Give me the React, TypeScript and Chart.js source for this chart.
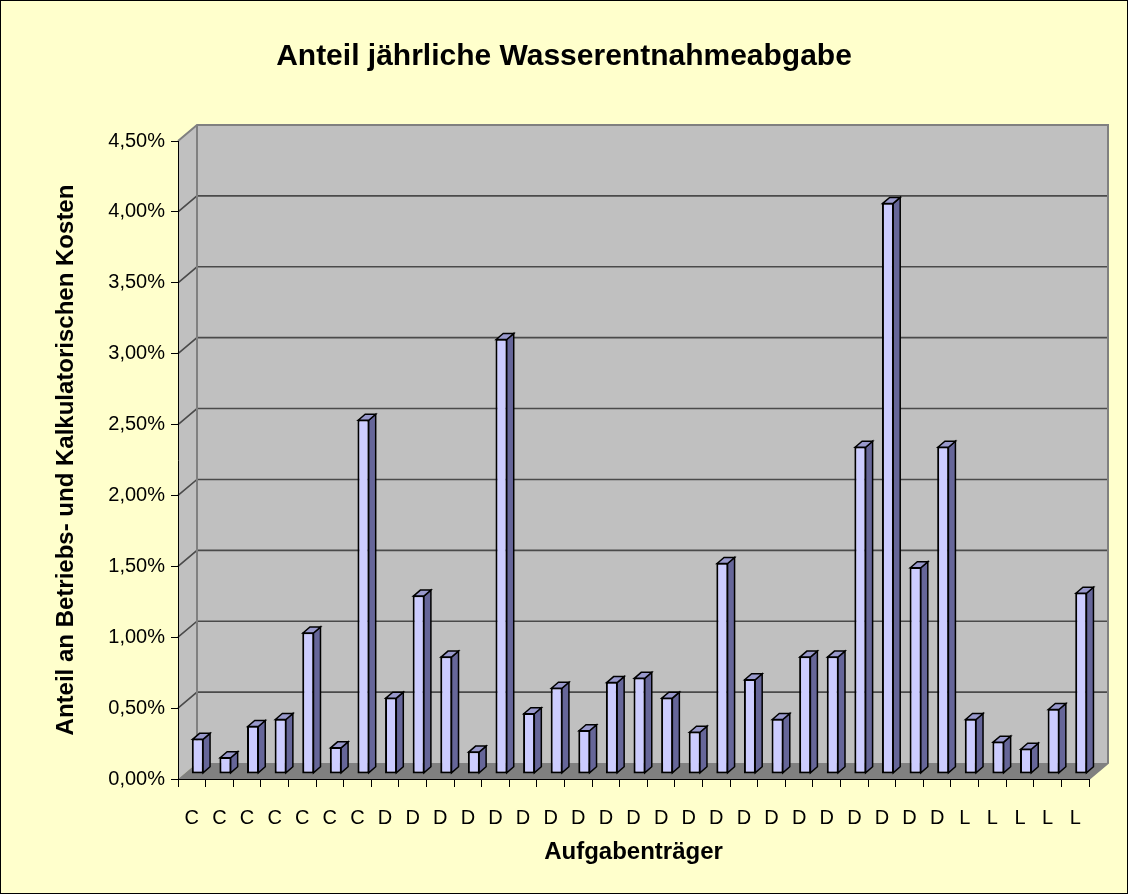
import React, { useEffect, useRef } from 'react';
import { Chart, registerables } from 'chart.js';

Chart.register(...registerables);

// ---- data ----
const categories: string[] = [
  'C', 'C', 'C', 'C', 'C', 'C', 'C',
  'D', 'D', 'D', 'D', 'D', 'D', 'D', 'D', 'D', 'D', 'D', 'D', 'D', 'D', 'D', 'D', 'D', 'D', 'D', 'D', 'D',
  'L', 'L', 'L', 'L', 'L',
];
const values: number[] = [
  0.25, 0.12, 0.34, 0.39, 1.0, 0.19, 2.5,
  0.54, 1.26, 0.83, 0.16, 3.07, 0.43, 0.61, 0.31, 0.65, 0.68, 0.54, 0.3, 1.49, 0.67, 0.39, 0.83, 0.83, 2.31, 4.03, 1.46, 2.31,
  0.39, 0.23, 0.18, 0.46, 1.28,
];
const yMin = 0;
const yMax = 4.5;
const yStep = 0.5;
const chartTitle = 'Anteil jährliche Wasserentnahmeabgabe';
const xTitle = 'Aufgabenträger';
const yTitle = 'Anteil an Betriebs- und Kalkulatorischen Kosten';

// ---- style constants ----
const FONT = "'Liberation Sans', Arial, sans-serif";
const WALL_DX = 19;
const WALL_DY = -16;
const BAR_SHIFT_X = 6;
const BAR_SHIFT_Y = -5;
const BAR_DX = 7;
const BAR_DY = -6;

const fmt = (v: number) => v.toFixed(2).replace('.', ',') + '%';

const excel3d = {
  id: 'excel3d',
  beforeDraw(chart: any) {
    const ctx = chart.ctx as CanvasRenderingContext2D;
    const { width, height } = chart;
    ctx.save();
    ctx.fillStyle = '#FFFFCC';
    ctx.fillRect(0, 0, width, height);
    ctx.strokeStyle = '#000';
    ctx.lineWidth = 1;
    ctx.strokeRect(0.5, 0.5, width - 1, height - 1);

    const { left, right, top, bottom } = chart.chartArea;
    const ys = chart.scales.y;
    // back wall
    ctx.fillStyle = '#C0C0C0';
    ctx.fillRect(left + WALL_DX, top + WALL_DY, right - left, bottom - top);
    // left wall
    ctx.beginPath();
    ctx.moveTo(left, top);
    ctx.lineTo(left + WALL_DX, top + WALL_DY);
    ctx.lineTo(left + WALL_DX, bottom + WALL_DY);
    ctx.lineTo(left, bottom);
    ctx.closePath();
    ctx.fill();
    // floor
    ctx.fillStyle = '#808080';
    ctx.beginPath();
    ctx.moveTo(left, bottom);
    ctx.lineTo(right, bottom);
    ctx.lineTo(right + WALL_DX, bottom + WALL_DY);
    ctx.lineTo(left + WALL_DX, bottom + WALL_DY);
    ctx.closePath();
    ctx.fill();

    // gridlines
    ctx.strokeStyle = '#4A4A4A';
    ctx.lineWidth = 1.6;
    ys.ticks.forEach((t: any) => {
      if (t.value <= yMin || t.value >= yMax) return;
      const y = ys.getPixelForValue(t.value);
      ctx.beginPath();
      ctx.moveTo(left, y);
      ctx.lineTo(left + WALL_DX, y + WALL_DY);
      ctx.lineTo(right + WALL_DX, y + WALL_DY);
      ctx.stroke();
    });

    // wall borders
    ctx.strokeStyle = '#808080';
    ctx.lineWidth = 2;
    ctx.beginPath();
    ctx.moveTo(left, top);
    ctx.lineTo(left + WALL_DX, top + WALL_DY);
    ctx.lineTo(right + WALL_DX, top + WALL_DY);
    ctx.lineTo(right + WALL_DX, bottom + WALL_DY);
    ctx.lineTo(right, bottom);
    ctx.moveTo(left + WALL_DX, top + WALL_DY);
    ctx.lineTo(left + WALL_DX, bottom + WALL_DY);
    ctx.stroke();
    ctx.restore();
  },
  beforeDatasetsDraw(chart: any) {
    const ctx = chart.ctx as CanvasRenderingContext2D;
    ctx.save();
    ctx.translate(BAR_SHIFT_X, BAR_SHIFT_Y);
  },
  afterDatasetsDraw(chart: any) {
    const ctx = chart.ctx as CanvasRenderingContext2D;
    const meta = chart.getDatasetMeta(0);
    ctx.lineWidth = 1.5;
    ctx.strokeStyle = '#000';
    ctx.lineJoin = 'miter';
    meta.data.forEach((bar: any) => {
      const p = bar.getProps(['x', 'y', 'base', 'width'], true);
      const xl = p.x - p.width / 2 + 0.75;
      const xr = p.x + p.width / 2 - 0.75;
      const yt = p.y + 0.75;
      const yb = p.base - 0.75;
      // side face
      ctx.fillStyle = '#666699';
      ctx.beginPath();
      ctx.moveTo(xr, yt);
      ctx.lineTo(xr + BAR_DX, yt + BAR_DY);
      ctx.lineTo(xr + BAR_DX, yb + BAR_DY);
      ctx.lineTo(xr, yb);
      ctx.closePath();
      ctx.fill();
      ctx.stroke();
      // top face
      ctx.fillStyle = '#9999CC';
      ctx.beginPath();
      ctx.moveTo(xl, yt);
      ctx.lineTo(xl + BAR_DX, yt + BAR_DY);
      ctx.lineTo(xr + BAR_DX, yt + BAR_DY);
      ctx.lineTo(xr, yt);
      ctx.closePath();
      ctx.fill();
      ctx.stroke();
    });
    ctx.restore();
  },
};

export default function App() {
  const ref = useRef<HTMLCanvasElement | null>(null);
  useEffect(() => {
    if (!ref.current) return;
    const titleSize = 30;
    const titleLH = titleSize * 1.2;
    const axisTitleSize = 24;
    const axisTitleLH = axisTitleSize * 1.2;
    const tickSize = 20;
    const tickLH = tickSize * 1.2;
    const chart = new Chart(ref.current, {
      type: 'bar',
      data: {
        labels: categories,
        datasets: [
          {
            data: values,
            backgroundColor: '#CCCCFF',
            borderColor: '#000',
            borderWidth: 2,
            borderSkipped: false,
            categoryPercentage: 1,
            barPercentage: 0.435,
            clip: false as any,
          },
        ],
      },
      options: {
        responsive: false,
        animation: false,
        devicePixelRatio: 1,
        layout: { padding: 0 },
        plugins: {
          legend: { display: false },
          tooltip: { enabled: false },
          title: {
            display: true,
            text: chartTitle,
            color: '#000',
            font: { family: FONT, size: titleSize, weight: 'bold', lineHeight: 1.2 },
            padding: { top: 57 - titleLH / 2, bottom: 84 - titleLH / 2 },
          },
        },
        scales: {
          x: {
            type: 'category',
            offset: true,
            grid: {
              offset: true,
              drawOnChartArea: false,
              drawTicks: true,
              tickLength: 8,
              color: '#000',
            },
            border: { display: true, color: '#000', width: 1 },
            ticks: {
              color: '#000',
              font: { family: FONT, size: tickSize, lineHeight: 1.2 },
              maxRotation: 0,
              autoSkip: false,
              padding: 818 - 787 - tickLH / 2,
            },
            title: {
              display: true,
              text: xTitle,
              color: '#000',
              font: { family: FONT, size: axisTitleSize, weight: 'bold', lineHeight: 1.2 },
              padding: { top: 0, bottom: 894 - 852 - axisTitleLH / 2 },
            },
            afterFit(scale: any) {
              scale.height = 115;
            },
          },
          y: {
            min: yMin,
            max: yMax,
            grid: {
              drawOnChartArea: false,
              drawTicks: true,
              tickLength: 7,
              color: '#000',
            },
            border: { display: true, color: '#000', width: 1 },
            ticks: {
              stepSize: yStep,
              color: '#000',
              font: { family: FONT, size: tickSize },
              padding: 6,
              callback: (v: any) => fmt(Number(v)),
            },
            title: {
              display: true,
              text: yTitle,
              color: '#000',
              font: { family: FONT, size: axisTitleSize, weight: 'bold', lineHeight: 1.2 },
              padding: { top: 66 - axisTitleLH / 2, bottom: 0 },
            },
            afterFit(scale: any) {
              scale.width = 178;
            },
          },
          yRight: {
            position: 'right',
            display: true,
            min: yMin,
            max: yMax,
            grid: { display: false },
            border: { display: false },
            ticks: { display: false },
            afterFit(scale: any) {
              scale.width = 39;
            },
          },
        },
      },
      plugins: [excel3d],
    } as any);
    return () => chart.destroy();
  }, []);
  return (
    <div style={{ position: 'absolute', left: 0, top: 0, width: 1128, height: 894 }}>
      <canvas ref={ref} width={1128} height={894} style={{ display: 'block', width: 1128, height: 894 }} />
    </div>
  );
}
